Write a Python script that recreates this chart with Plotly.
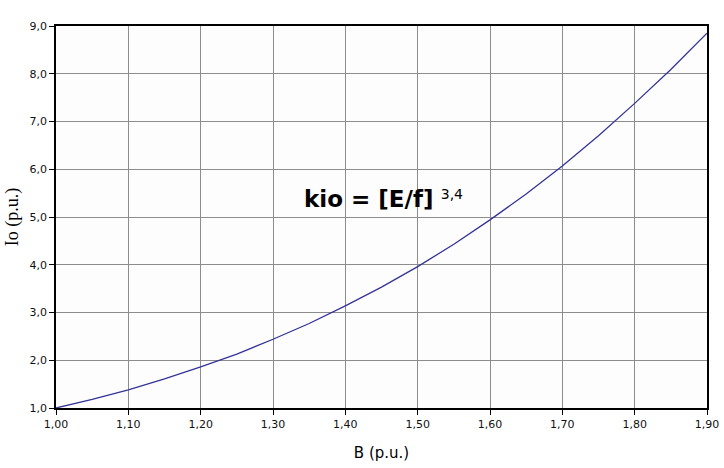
import plotly.graph_objects as go

B = [1.00, 1.05, 1.10, 1.15, 1.20, 1.25, 1.30, 1.35, 1.40, 1.45,
     1.50, 1.55, 1.60, 1.65, 1.70, 1.75, 1.80, 1.85, 1.90]
Io = [1.00, 1.18, 1.38, 1.61, 1.86, 2.13, 2.44, 2.77, 3.14, 3.53,
      3.96, 4.43, 4.94, 5.48, 6.07, 6.70, 7.38, 8.09, 8.85]

x_ticks = [1.0 + 0.1 * i for i in range(10)]
y_ticks = list(range(1, 10))

fig = go.Figure()
fig.add_trace(go.Scatter(x=B, y=Io, mode="lines", line=dict(color="#333399", width=1.3),
                         showlegend=False, hoverinfo="skip"))

font_family = "DejaVu Sans, Verdana, sans-serif"
axis_common = dict(showline=True, mirror=True, linecolor="black", linewidth=1.5,
                   showgrid=True, gridcolor="#8c8c8c", gridwidth=1,
                   ticks="outside", ticklen=5, tickcolor="black", tickwidth=1,
                   zeroline=False, automargin=False,
                   tickfont=dict(family=font_family, size=11, color="#111111"))

fig.update_layout(
    width=724, height=468,
    margin=dict(l=56, r=17, t=26, b=60),
    paper_bgcolor="white", plot_bgcolor="#fdfdfd",
    separators=",.",
    xaxis=dict(range=[1.0, 1.9], tickvals=x_ticks, tickformat=".2f",
               title=dict(text="B (p.u.)", font=dict(family=font_family, size=15, color="black"), standoff=18),
               **axis_common),
    yaxis=dict(range=[1.0, 9.0], tickvals=y_ticks, tickformat=".1f",
               title=dict(text="Io (p.u.)", font=dict(family="Liberation Serif, Times New Roman, serif", size=18, color="black"), standoff=6),
               **axis_common),
    annotations=[dict(x=1.453, y=5.38, xref="x", yref="y", showarrow=False,
                      text="<b>kio = [E/f]</b> <span style='font-size:20px'><sup>3,4</sup></span>",
                      font=dict(family=font_family, size=23, color="black"))],
)

fig.write_html("out.html", config={"displayModeBar": False},
               post_script="document.body.style.margin='0';document.body.style.overflow='hidden';")
